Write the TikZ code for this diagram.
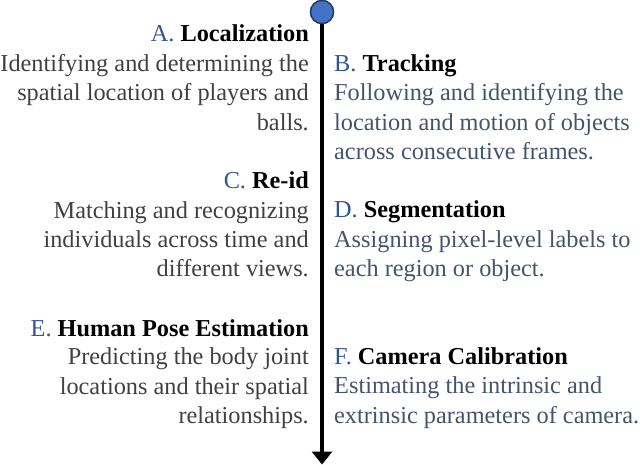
\documentclass[tikz,border=0pt]{standalone}
\usepackage{fontspec}
\setmainfont{Liberation Serif}
\usetikzlibrary{arrows.meta}
\definecolor{letterblue}{HTML}{2F5597}
\definecolor{leftgray}{HTML}{404040}
\definecolor{rightgray}{HTML}{44546A}
\definecolor{dotfill}{HTML}{4472C4}
\definecolor{dotline}{HTML}{1F3864}
\tikzset{
  txt/.style={inner sep=0pt, font=\fontsize{24.3}{29.3}\selectfont},
  lefttitle/.style={txt, anchor=base east},
  leftdesc/.style={txt, anchor=north east, yshift=20.51pt, align=right, text=leftgray},
  righttitle/.style={txt, anchor=base west},
  rightdesc/.style={txt, anchor=north west, yshift=20.51pt, align=left, text=rightgray},
  timeline/.style={line width=3.5pt, -{Triangle[length=13pt,width=20pt]}},
  dot/.style={circle, minimum size=23pt, inner sep=0pt, fill=dotfill, draw=dotline, line width=1.3pt}
}
\newcommand{\lbl}[2]{\textcolor{letterblue}{#1} \textbf{#2}}
\begin{document}
\begin{tikzpicture}[x=1pt,y=-1pt]
\useasboundingbox (0,0) rectangle (640,465);
\coordinate (end) at (322,464.5);
\node[dot] (top) at (322,12) {};
\draw[timeline] (top.south) -- (end);
\node[dot] at (322,12) {};
% A
\node[lefttitle] (ta) at (309,42) {\lbl{A.}{Localization}};
\node[leftdesc] (da) at (309,71.3) {\strut Identifying and determining the\\spatial location of players and\\balls.};
% B
\node[righttitle] (tb) at (334,71.3) {\lbl{B.}{Tracking}};
\node[rightdesc] (db) at (334,100.6) {\strut Following and identifying the\\location and motion of objects\\across consecutive frames.};
% C
\node[lefttitle] (tc) at (309,188.5) {\lbl{C.}{Re-id}};
\node[leftdesc] (dc) at (309,217.8) {\strut Matching and recognizing\\individuals across time and\\different views.};
% D
\node[righttitle] (td) at (334,217.8) {\lbl{D.}{Segmentation}};
\node[rightdesc] (dd) at (334,247.1) {\strut Assigning pixel-level labels to\\each region or object.};
% E
\node[lefttitle] (te) at (309,336) {\lbl{E.}{Human Pose Estimation}};
\node[leftdesc] (de) at (309,364.5) {\strut Predicting the body joint\\locations and their spatial\\relationships.};
% F
\node[righttitle] (tf) at (334,364.5) {\lbl{F.}{Camera Calibration}};
\node[rightdesc] (df) at (334,393.5) {\strut Estimating the intrinsic and\\extrinsic parameters of camera.};
\end{tikzpicture}
\end{document}
